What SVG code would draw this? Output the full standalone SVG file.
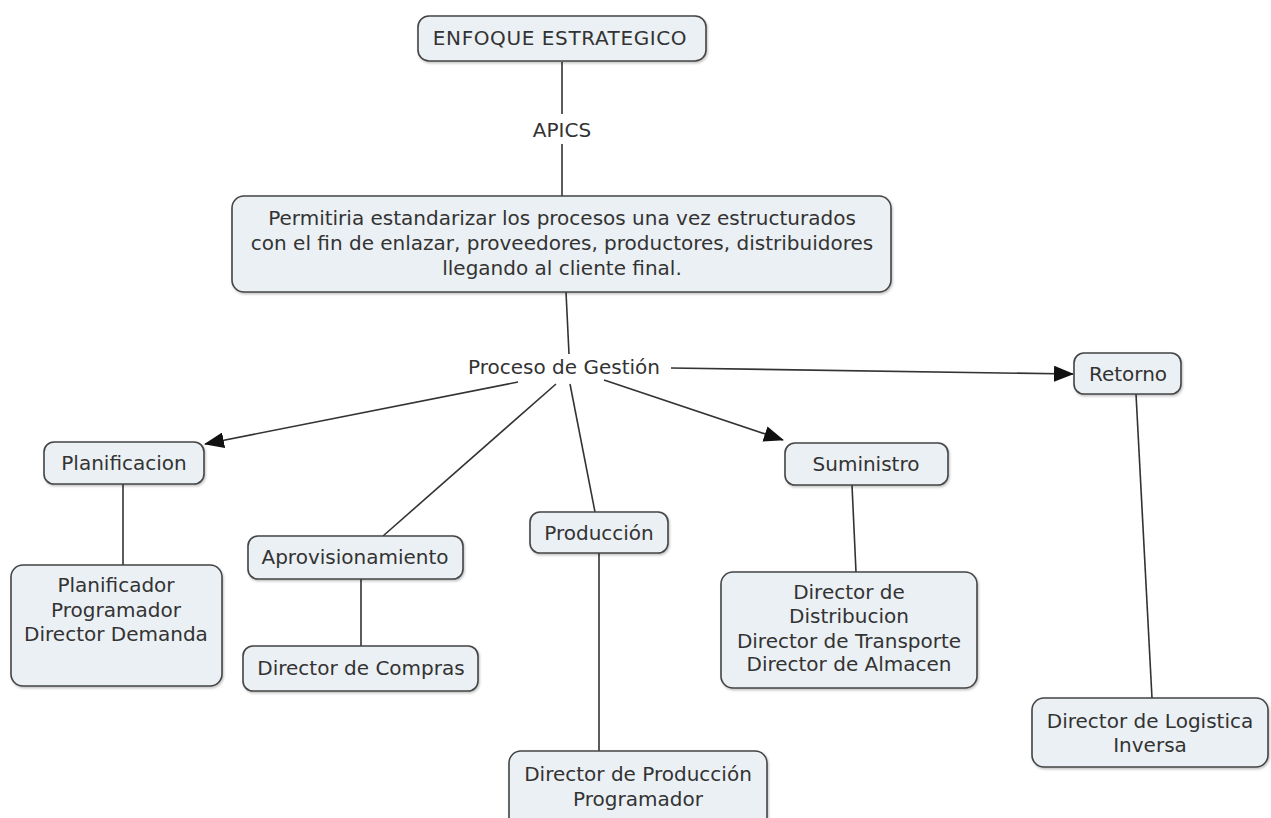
<svg xmlns="http://www.w3.org/2000/svg" width="1271" height="818" viewBox="0 0 1271 818">
<defs>
<marker id="arrow" viewBox="0 0 20 16" refX="19" refY="8" markerWidth="20" markerHeight="16" markerUnits="userSpaceOnUse" orient="auto">
<path d="M0,0 L20,8 L0,16 Z" fill="#111"/>
</marker>
<filter id="sh" x="-5%" y="-5%" width="110%" height="115%">
<feDropShadow dx="1" dy="1.5" stdDeviation="1" flood-color="#000" flood-opacity="0.25"/>
</filter>
</defs>
<style>
.box{fill:#ebf0f4;stroke:#444;stroke-width:1.6;filter:url(#sh)}
text{font-family:"DejaVu Sans",Verdana,sans-serif;font-size:20px;fill:#333;text-anchor:middle}
.c line{stroke:#333;stroke-width:1.6}
</style>
<rect width="1271" height="818" fill="#fff"/>
<g class="c" id="connectors">
<line x1="562" y1="62" x2="562" y2="114"/>
<line x1="562" y1="144" x2="562" y2="196"/>
<line x1="566" y1="292" x2="569" y2="354"/>
<line x1="518" y1="382" x2="205" y2="444" marker-end="url(#arrow)"/>
<line x1="556" y1="384" x2="383" y2="536"/>
<line x1="570" y1="384" x2="595" y2="512"/>
<line x1="604" y1="380" x2="783" y2="440" marker-end="url(#arrow)"/>
<line x1="671" y1="368" x2="1073" y2="374" marker-end="url(#arrow)"/>
<line x1="123" y1="484" x2="123" y2="565"/>
<line x1="361" y1="579" x2="361" y2="646"/>
<line x1="599" y1="553" x2="599" y2="751"/>
<line x1="852" y1="485" x2="856" y2="572"/>
<line x1="1136" y1="394" x2="1152" y2="698"/>
</g>
<g id="enfoque">
<rect class="box" x="418" y="16" width="288" height="45" rx="11"/>
<text x="560" y="45" letter-spacing="0.6">ENFOQUE ESTRATEGICO</text>
</g>
<g id="apics">
<text x="562" y="137">APICS</text>
</g>
<g id="principal">
<rect class="box" x="232" y="196" width="659" height="96" rx="12"/>
<text x="562" y="225">Permitiria estandarizar los procesos una vez estructurados</text>
<text x="562" y="250">con el fin de enlazar, proveedores, productores, distribuidores</text>
<text x="562" y="275">llegando al cliente final.</text>
</g>
<g id="proceso">
<text x="564" y="374">Proceso de Gestión</text>
</g>
<g id="retorno">
<rect class="box" x="1074" y="353" width="107" height="41" rx="10"/>
<text x="1128" y="381">Retorno</text>
</g>
<g id="planificacion">
<rect class="box" x="44" y="442" width="160" height="42" rx="10"/>
<text x="124" y="470">Planificacion</text>
</g>
<g id="suministro">
<rect class="box" x="785" y="443" width="163" height="42" rx="10"/>
<text x="866" y="471">Suministro</text>
</g>
<g id="aprovisionamiento">
<rect class="box" x="248" y="536" width="215" height="43" rx="10"/>
<text x="355" y="564">Aprovisionamiento</text>
</g>
<g id="produccion">
<rect class="box" x="530" y="512" width="138" height="41" rx="10"/>
<text x="599" y="540">Producción</text>
</g>
<g id="planificador">
<rect class="box" x="11" y="565" width="211" height="121" rx="12"/>
<text x="116" y="592">Planificador</text>
<text x="116" y="617">Programador</text>
<text x="116" y="641">Director Demanda</text>
</g>
<g id="compras">
<rect class="box" x="243" y="646" width="235" height="45" rx="10"/>
<text x="361" y="675">Director de Compras</text>
</g>
<g id="distribucion">
<rect class="box" x="721" y="572" width="256" height="116" rx="12"/>
<text x="849" y="599">Director de</text>
<text x="849" y="623">Distribucion</text>
<text x="849" y="648">Director de Transporte</text>
<text x="849" y="671">Director de Almacen</text>
</g>
<g id="dirproduccion">
<rect class="box" x="509" y="751" width="258" height="80" rx="12"/>
<text x="638" y="781">Director de Producción</text>
<text x="638" y="806">Programador</text>
</g>
<g id="logistica">
<rect class="box" x="1032" y="698" width="236" height="69" rx="12"/>
<text x="1150" y="728">Director de Logistica</text>
<text x="1150" y="752">Inversa</text>
</g>
</svg>
